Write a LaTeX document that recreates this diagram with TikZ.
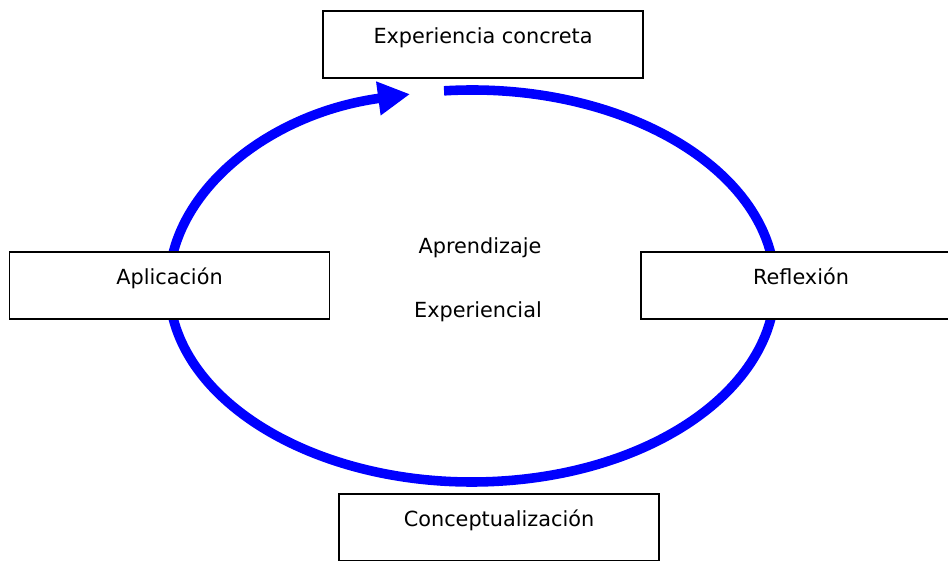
\documentclass[tikz,border=0pt]{standalone}
\usepackage{fontspec}
\setmainfont{DejaVu Sans}
\usetikzlibrary{arrows.meta}

\begin{document}
\begin{tikzpicture}[
    stage/.style={draw, fill=white, line width=0.8pt, minimum width=8cm, minimum height=1.675cm,
      text depth=0.45cm, font=\fontsize{14.8}{17}\selectfont},
    centretext/.style={font=\fontsize{14.8}{17}\selectfont},
    cyclearrow/.style={blue, line width=6.8pt, -{Triangle[length=0.8cm, width=0.8cm]}}
  ]
  \useasboundingbox (0,0) rectangle (23.7,14);
  \clip (0,0) rectangle (23.7,14);

  \coordinate (centre) at (11.8,6.85);
  \draw[cyclearrow] ([shift={(95.3:7.575cm and 4.9cm)}]centre)
    arc[start angle=95.3, end angle=-258.2, x radius=7.575cm, y radius=4.9cm];

  \node[stage] (concreta) at (12.075,12.8875) {Experiencia concreta};
  \node[stage] (aplicacion) at (4.2375,6.8625) {Aplicación};
  \node[stage] (reflexion) at (20.025,6.8625) {Reflexión};
  \node[stage] (concepto) at (12.475,0.8125) {Conceptualización};

  \node[centretext] (aprend) at (12.0,7.8) {Aprendizaje};
  \node[centretext] (experien) at (11.95,6.2) {Experiencial};

\end{tikzpicture}
\end{document}
